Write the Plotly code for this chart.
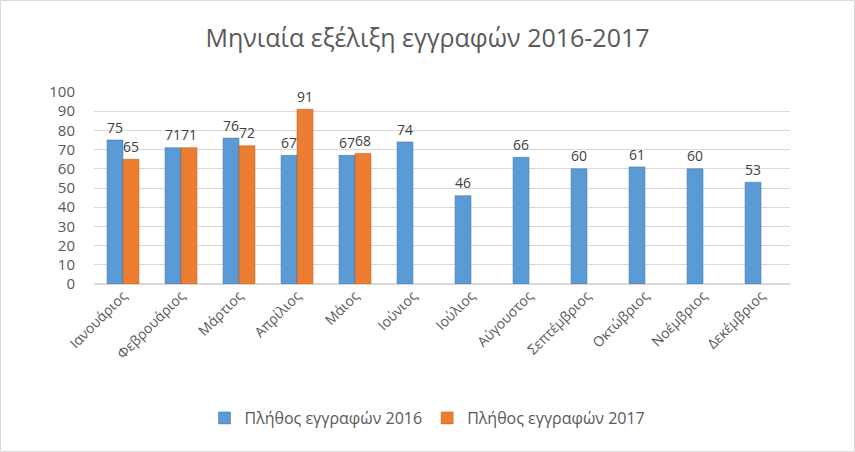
import plotly.graph_objects as go

months = ["Ιανουάριος", "Φεβρουάριος", "Μάρτιος", "Απρίλιος", "Μάιος", "Ιούνιος",
          "Ιούλιος", "Αύγουστος", "Σεπτέμβριος", "Οκτώβριος", "Νοέμβριος", "Δεκέμβριος"]
values_2016 = [75, 71, 76, 67, 67, 74, 46, 66, 60, 61, 60, 53]
values_2017 = [65, 71, 72, 91, 68, None, None, None, None, None, None, None]
series_names = ["Πλήθος εγγραφών 2016", "Πλήθος εγγραφών 2017"]
title_text = "Μηνιαία εξέλιξη εγγραφών 2016-2017"

FONT = "Open Sans, Liberation Sans, sans-serif"

fig = go.Figure()
fig.add_trace(go.Bar(
    x=months, y=values_2016, name=series_names[0],
    marker=dict(color="#5B9BD5", line=dict(color="#41719C", width=0.5)),
    text=values_2016, textposition="outside", cliponaxis=False,
    textfont=dict(size=16, color="#404040", family=FONT),
))
fig.add_trace(go.Bar(
    x=months, y=values_2017, name=series_names[1],
    marker=dict(color="#ED7D31", line=dict(color="#AE5A21", width=0.5)),
    text=[v if v is not None else "" for v in values_2017],
    textposition="outside", cliponaxis=False,
    textfont=dict(size=16, color="#404040", family=FONT),
))

fig.update_layout(
    width=855, height=452,
    paper_bgcolor="white", plot_bgcolor="white",
    margin=dict(l=94, r=65, t=92, b=168),
    barmode="group", bargap=0.45, bargroupgap=0,
    title=dict(text=title_text, x=0.5, xref="container", xanchor="center",
               y=1 - 38 / 452, yref="container", yanchor="middle",
               font=dict(size=25, color="#595959", family=FONT)),
    font=dict(family=FONT, color="#595959"),
    showlegend=True,
    legend=dict(orientation="h", x=0.5, xref="container", xanchor="center",
                y=1 - 418 / 452, yref="container", yanchor="middle",
                font=dict(size=16, color="#595959", family=FONT),
                itemwidth=30, traceorder="normal"),
    shapes=[dict(type="rect", xref="paper", yref="paper", x0=-93.5 / 696, x1=1 + 64.5 / 696,
                 y0=-167.5 / 192, y1=1 + 91.5 / 192, line=dict(color="#D9D9D9", width=1),
                 fillcolor="rgba(0,0,0,0)", layer="below")],
)
fig.update_xaxes(tickangle=-45, tickfont=dict(size=14, color="#595959", family=FONT),
                 showline=False, ticks="", showgrid=False)
fig.update_yaxes(range=[0, 100], dtick=10, showgrid=True, gridcolor="#D9D9D9",
                 zeroline=True, zerolinecolor="#D9D9D9", showline=False, ticks="",
                 tickfont=dict(size=15, color="#595959", family=FONT), ticklabelstandoff=18)

fig.write_html("out.html", config={"displayModeBar": False},
               post_script="document.body.style.margin='0';")
